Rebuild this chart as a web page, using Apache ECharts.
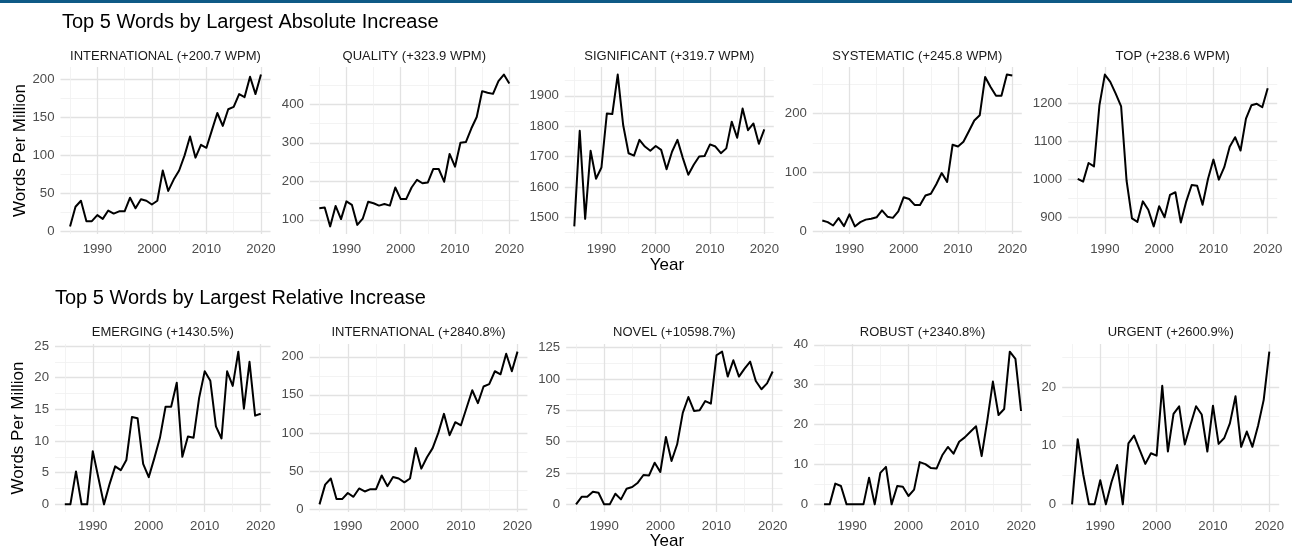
<!DOCTYPE html>
<html>
<head>
<meta charset="utf-8">
<script src="https://cdn.jsdelivr.net/npm/echarts@6/dist/echarts.min.js"></script>
<style>
  html, body { margin: 0; padding: 0; background: #ffffff; }
  #chart { width: 1292px; height: 548px; }
</style>
</head>
<body>
<div id="chart"></div>
<script>
// ---- data -------------------------------------------------------------
const years = [1985, 1986, 1987, 1988, 1989, 1990, 1991, 1992, 1993, 1994,
               1995, 1996, 1997, 1998, 1999, 2000, 2001, 2002, 2003, 2004,
               2005, 2006, 2007, 2008, 2009, 2010, 2011, 2012, 2013, 2014,
               2015, 2016, 2017, 2018, 2019, 2020];
const yearTicks = [1990, 2000, 2010, 2020];
const yearMinorTicks = [1985, 1995, 2005, 2015];

const absTitle = 'Top 5 Words by Largest Absolute Increase';
const relTitle = 'Top 5 Words by Largest Relative Increase';
const yAxisTitle = 'Words Per Million';
const xAxisTitle = 'Year';

const absLabels = ['INTERNATIONAL (+200.7 WPM)', 'QUALITY (+323.9 WPM)', 'SIGNIFICANT (+319.7 WPM)',
                   'SYSTEMATIC (+245.8 WPM)', 'TOP (+238.6 WPM)'];
const relLabels = ['EMERGING (+1430.5%)', 'INTERNATIONAL (+2840.8%)', 'NOVEL (+10598.7%)',
                   'ROBUST (+2340.8%)', 'URGENT (+2600.9%)'];

// words per million, 1985..2020
const wInternational = [6.07, 32, 40, 13, 13, 21, 16, 27, 23, 26, 26, 44, 30, 42, 40, 35, 40, 80,
                       53, 68, 80, 100, 125, 97, 114, 110, 133, 156, 139, 161, 164, 181, 177, 204, 181, 206.77];
const wQuality = [130, 132, 83, 136, 102, 148, 139, 87, 103, 147, 143, 137, 141, 137, 184, 154, 154, 184,
                 204, 195, 197, 232, 232, 199, 271, 238, 300, 302, 337, 367, 434, 430, 427, 460, 477, 453.9];
const wSignificant = [1470, 1785, 1495, 1719, 1627, 1664, 1842, 1840, 1970, 1804, 1711, 1703, 1755, 1733,
                     1719, 1735, 1722, 1658, 1716, 1755, 1695, 1640, 1673, 1700, 1702, 1740, 1733, 1711,
                     1727, 1815, 1762, 1858, 1787, 1809, 1742, 1789.7];
const wSystematic = [18.6, 15.8, 10, 22.6, 9, 29, 8.5, 15.8, 20, 21.5, 24, 35.6, 25, 23, 34, 58, 55, 45,
                    45, 61, 64, 80, 99, 84, 147, 144, 152, 170, 188, 197, 262, 245, 230, 230, 266, 264.4];
const wTop = [1000.5, 993, 1042, 1033, 1194, 1275, 1256, 1225, 1191, 996, 896, 887, 941, 919, 875, 928,
             899, 958, 965, 885, 941, 984, 982, 932, 1000, 1051, 998, 1031, 1085, 1110, 1075, 1159, 1194,
             1198, 1189, 1239.1];
const wEmerging = [0, 0, 5.2, 0, 0, 8.4, 4.2, 0, 3.2, 6, 5.4, 7, 13.8, 13.6, 6.4, 4.3, 7.3, 10.5, 15.4,
                  15.4, 19.2, 7.5, 10.7, 10.5, 16.8, 21, 19.5, 12.3, 10.4, 21, 18.7, 24.1, 15.1, 22.5, 14, 14.305];
const wNovel = [0, 6, 6, 10, 9.3, 0, 0, 8.5, 4, 12.5, 13.8, 17.3, 23.4, 23.1, 33.2, 25.8, 53.7, 34.6, 47.9,
               73, 85.6, 74.5, 75, 82.4, 80.3, 118.9, 121.8, 101.9, 114.9, 101.9, 108.2, 113.8, 98.4, 91.8,
               96.5, 105.99];
const wRobust = [0, 0, 5.2, 4.6, 0, 0, 0, 0, 6.7, 0, 7.9, 9.4, 0, 4.6, 4.4, 2.1, 3.7, 10.6, 10.1, 9.1, 9,
                12.3, 14.4, 12.7, 15.7, 16.8, 18.2, 19.6, 12.1, 21, 30.8, 22.4, 23.9, 38.3, 36.5, 23.41];
const wUrgent = [0, 11.1, 5, 0, 0, 4.1, 0, 3.8, 6.7, 0, 10.4, 11.7, 9.3, 6.9, 8.7, 8.3, 20.2, 9, 15.4,
                16.7, 10.2, 13.5, 16.7, 15.3, 9, 16.8, 10.3, 11.3, 13.8, 18.4, 9.8, 12.4, 9.8, 13.4, 17.8, 26.01];

const absSeries = [wInternational, wQuality, wSignificant, wSystematic, wTop];
const relSeries = [wEmerging, wInternational, wNovel, wRobust, wUrgent];

const absTicks = [[0, 50, 100, 150, 200], [100, 200, 300, 400], [1500, 1600, 1700, 1800, 1900],
                  [0, 100, 200], [900, 1000, 1100, 1200]];
const relTicks = [[0, 5, 10, 15, 20, 25], [0, 50, 100, 150, 200], [0, 25, 50, 75, 100, 125],
                  [0, 10, 20, 30, 40], [0, 10, 20]];

// ---- layout -------------------------------------------------------------
const rows = [
  { top: 67, height: 167, stripY: 56, titleX: 62, titleY: 22, yTitleX: 20, yearY: 265, labelMargin: 9,
    cols: [[60.5, 210], [309.8, 209], [564.8, 209], [812.8, 209], [1068.2, 209]],
    title: absTitle, labels: absLabels, series: absSeries, ticks: absTicks },
  { top: 344, height: 168, stripY: 332, titleX: 55, titleY: 298, yTitleX: 18, yearY: 541, labelMargin: 8,
    cols: [[55, 215.5], [309.6, 217.8], [566.2, 216.3], [814.2, 216.7], [1062.2, 217]],
    title: relTitle, labels: relLabels, series: relSeries, ticks: relTicks }
];

const FONT = '"Liberation Sans", Arial, Helvetica, sans-serif';
const majorGrid = { color: '#e2e2e2', width: 1.3 };
const minorGrid = { color: '#f0f0f0', width: 0.8 };
const tickColor = '#4d4d4d';

// gridlines halfway between major ticks (ggplot-style minor breaks)
function minorsOf(ticks, lo, hi) {
  const step = ticks[1] - ticks[0];
  const out = [ticks[0] - step / 2];
  ticks.forEach(t => out.push(t + step / 2));
  return out.filter(v => v > lo && v < hi);
}

const grids = [], xAxes = [], yAxes = [], series = [], graphics = [];

graphics.push({ type: 'rect', shape: { x: 0, y: 0, width: 1292, height: 3 }, style: { fill: '#0e5a86' } });

function textStyle(text, font, fill, align) {
  return { text: text, font: font, fill: fill, align: align, verticalAlign: 'middle',
           textAlign: align, textVerticalAlign: 'middle' };
}

rows.forEach((row) => {
  graphics.push({ type: 'text', x: row.titleX, y: row.titleY,
    style: textStyle(row.title, '20px ' + FONT, '#000', 'left') });
  graphics.push({ type: 'text', x: row.yTitleX, y: row.top + row.height / 2, rotation: Math.PI / 2,
    style: textStyle(yAxisTitle, '17px ' + FONT, '#000', 'center') });
  graphics.push({ type: 'text', x: 667, y: row.yearY,
    style: textStyle(xAxisTitle, '17px ' + FONT, '#000', 'center') });

  row.cols.forEach((col, c) => {
    const gi = grids.length;
    const vals = row.series[c];
    const dMin = Math.min(...vals), dMax = Math.max(...vals);
    const pad = (dMax - dMin) * 0.05;
    const lo = dMin - pad, hi = dMax + pad;
    const ticks = row.ticks[c];
    const minors = minorsOf(ticks, lo, hi);

    grids.push({ left: col[0], top: row.top, width: col[1], height: row.height, containLabel: false });

    graphics.push({ type: 'text', x: col[0] + col[1] / 2, y: row.stripY,
      style: textStyle(row.labels[c], '13px ' + FONT, '#1a1a1a', 'center') });

    // major x axis with labels
    xAxes.push({ type: 'value', gridIndex: gi, min: 1983.25, max: 2021.75,
      axisLine: { show: false }, axisTick: { show: false, customValues: yearTicks },
      axisLabel: { customValues: yearTicks, color: tickColor, fontSize: 13.2, fontFamily: FONT,
                   margin: row.labelMargin, formatter: v => String(v) },
      splitLine: { show: true, lineStyle: majorGrid } });
    // minor x gridlines
    xAxes.push({ type: 'value', gridIndex: gi, min: 1983.25, max: 2021.75, position: 'top',
      axisLine: { show: false }, axisTick: { show: false, customValues: yearMinorTicks },
      axisLabel: { show: false, customValues: yearMinorTicks },
      splitLine: { show: true, lineStyle: minorGrid } });
    // major y axis with labels
    yAxes.push({ type: 'value', gridIndex: gi, min: lo, max: hi,
      axisLine: { show: false }, axisTick: { show: false, customValues: ticks },
      axisLabel: { customValues: ticks, color: tickColor, fontSize: 13.2, fontFamily: FONT,
                   margin: 6, formatter: v => String(v) },
      splitLine: { show: true, lineStyle: majorGrid } });
    // minor y gridlines
    yAxes.push({ type: 'value', gridIndex: gi, min: lo, max: hi, position: 'right',
      axisLine: { show: false }, axisTick: { show: false, customValues: minors },
      axisLabel: { show: false, customValues: minors },
      splitLine: { show: true, lineStyle: minorGrid } });

    series.push({ type: 'line', xAxisIndex: gi * 2, yAxisIndex: gi * 2,
      data: years.map((y, k) => [y, vals[k]]),
      showSymbol: false, symbol: 'none', silent: true, z: 5,
      lineStyle: { color: '#000000', width: 2, join: 'round' } });
  });
});

const chart = echarts.init(document.getElementById('chart'), null, { renderer: 'canvas' });
chart.setOption({
  animation: false,
  backgroundColor: '#ffffff',
  grid: grids,
  xAxis: xAxes,
  yAxis: yAxes,
  series: series,
  graphic: graphics
});
</script>
</body>
</html>
